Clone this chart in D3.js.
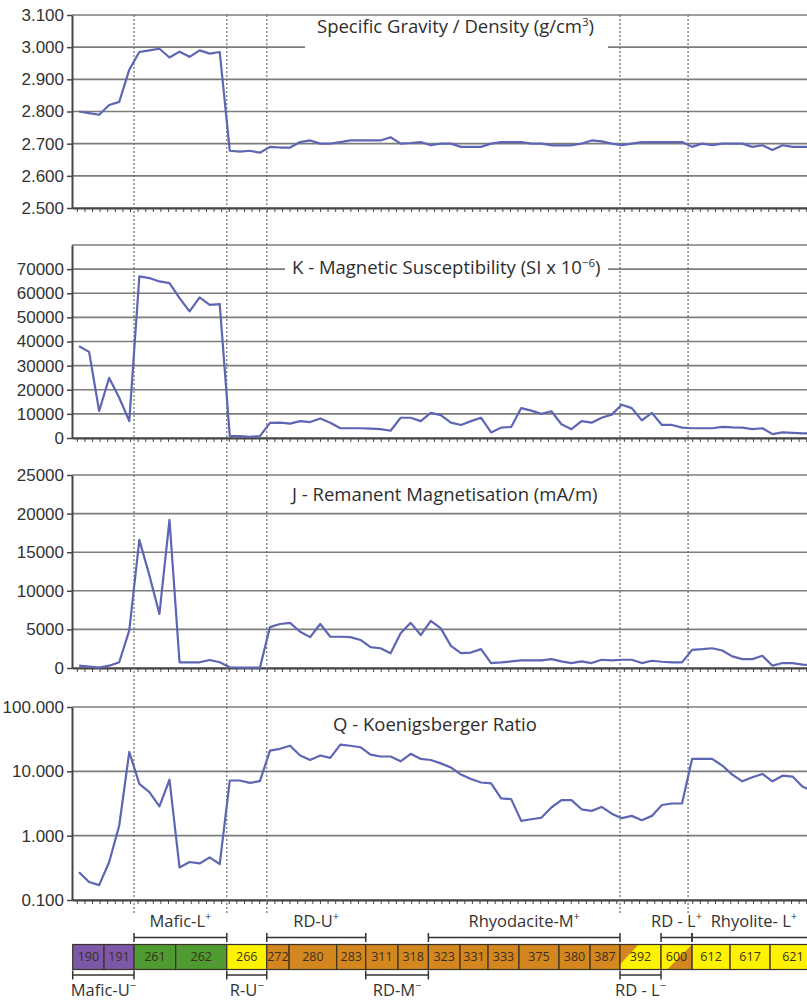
<!DOCTYPE html>
<html>
<head>
<meta charset="utf-8">
<script src="https://cdn.jsdelivr.net/npm/d3@7"></script>
<style>
  body { margin: 0; background: #fff; }
  svg { display: block; }
</style>
</head>
<body>
<svg id="chart" width="807" height="1002"></svg>
<script>
// ---- Measurements, one value per sample along the section ----
const density = [2.80,2.795,2.79,2.82,2.83,2.93,2.985,2.99,2.995,2.968,2.986,2.97,2.99,2.98,2.985,
  2.678,2.675,2.678,2.672,2.69,2.688,2.688,2.705,2.71,2.70,2.70,2.705,2.71,2.71,2.71,2.71,2.72,2.70,
  2.702,2.705,2.695,2.70,2.70,2.69,2.69,2.69,2.70,2.705,2.705,2.705,2.70,2.70,2.695,2.695,2.695,2.70,
  2.71,2.707,2.70,2.695,2.70,2.705,2.705,2.705,2.705,2.705,2.69,2.70,2.695,2.70,2.70,2.70,2.69,2.695,
  2.68,2.695,2.69,2.69,2.69];

const susceptibility = [38000,35700,11200,24900,16700,7000,67000,66300,64900,64200,58000,52500,58300,
  55200,55500,800,800,500,800,6300,6350,5950,7000,6600,8100,6350,4050,4050,4050,3900,3650,3000,8400,
  8400,7000,10400,9500,6350,5400,7000,8400,2300,4300,4600,12400,11350,10000,11100,5700,3650,7000,6350,
  8400,9700,13800,12400,7300,10400,5400,5400,4300,4050,4050,4050,4600,4400,4300,3650,4050,1600,2300,
  2100,1900,1900];

const remanence = [300,170,50,300,740,4870,16600,12000,7000,19200,740,740,740,1040,740,100,50,50,50,
  5300,5700,5850,4700,4000,5700,4050,4050,4000,3630,2700,2560,1920,4490,5850,4270,6110,5130,2860,1920,
  2000,2440,640,730,850,980,980,980,1150,850,640,850,640,1070,980,1070,1070,640,940,810,730,730,2350,
  2440,2560,2260,1500,1150,1150,1580,300,640,640,430,400];

const koenigsberger = [0.27,0.19,0.17,0.39,1.44,20,6.4,4.75,2.85,7.4,0.32,0.39,0.37,0.46,0.36,7.2,7.2,
  6.6,7.05,21,22.4,25,17.6,15,17.6,16.2,26,25,23.7,18.2,17,17,14.3,18.7,15.6,15,13.3,11.5,8.9,7.6,6.7,
  6.5,3.8,3.7,1.7,1.8,1.9,2.74,3.56,3.56,2.57,2.43,2.8,2.2,1.87,2.03,1.74,2.03,3.0,3.16,3.16,15.6,15.6,
  15.6,12.3,8.9,7.0,8.1,9.1,7.0,8.55,8.3,5.75,5.0];

// ---- Axis tick values ----
const densityTicks = [2.5, 2.6, 2.7, 2.8, 2.9, 3.0, 3.1];
const susceptibilityTicks = [0, 10000, 20000, 30000, 40000, 50000, 60000, 70000];
const remanenceTicks = [0, 5000, 10000, 15000, 20000, 25000];
const koenigsbergerTicks = [0.1, 1, 10, 100];

// ---- Geological units (positions in sample units along the section) ----
const contacts = [5.47, 14.70, 18.68, 53.83, 60.6];
const unitNames = ["190","191","261","262","266","272","280","283","311","318","323","331","333",
  "375","380","387","392","600","612","617","621"];
const unitEdges = [-0.63, 2.49, 5.47, 9.62, 14.70, 18.68, 20.90, 25.64, 28.53, 31.74, 34.76, 37.91,
  40.70, 43.78, 47.76, 50.85, 53.83, 57.91, 61.00, 64.78, 68.76, 73.3];
const unitRock = ["mafic-u","mafic-u","mafic-l","mafic-l","rhyolite","rd","rd","rd","rd","rd","rd","rd",
  "rd","rd","rd","rd","rd-rhy","rhy-rd","rhyolite","rhyolite","rhyolite"];

const upperGroups = [
  { name: "Mafic-L", sign: "+", from: 5.47, to: 14.70 },
  { name: "RD-U", sign: "+", from: 18.68, to: 28.53 },
  { name: "Rhyodacite-M", sign: "+", from: 34.76, to: 53.83 },
  { name: "RD - L", sign: "+", from: 57.91, to: 61.00 },
  { name: "Rhyolite- L", sign: "+", from: 61.00, to: 73.3 }
];
const lowerGroups = [
  { name: "Mafic-U", sign: "\u2212", from: -0.63, to: 5.47 },
  { name: "R-U", sign: "\u2212", from: 14.70, to: 18.68 },
  { name: "RD-M", sign: "\u2212", from: 28.53, to: 34.76 },
  { name: "RD - L", sign: "\u2212", from: 53.83, to: 57.91 }
];

// ---- Layout ----
const svg = d3.select("#chart");
const plotLeft = 72;
const panelHeight = 193;
const lineColor = "#5d66b3";
const gridColor = "#7c7c7c";
const axisColor = "#454545";
const rockColor = {
  "mafic-u": "#7e58a8",
  "mafic-l": "#4f9a31",
  "rhyolite": "#fff200",
  "rd": "#d5871f"
};

const x = d3.scaleLinear().domain([-0.7, 73.5]).range([plotLeft, plotLeft + 74.2 * 10.05]);
const xEnd = x.range()[1];
const bottomTicks = d3.range(-0.22, 73.5, 0.756);

const panels = [
  { top: 15, values: density, scale: d3.scaleLinear().domain([2.5, 3.1]), ticks: densityTicks,
    grid: densityTicks, fmt: d3.format(".3f"),
    title: [["Specific Gravity / Density (g/cm"], ["3", "sup"], [")"]], tx: 317, ty: 12, box: [305, 608, 2, 36] },
  { top: 245, values: susceptibility, scale: d3.scaleLinear().domain([0, 80000]), ticks: susceptibilityTicks,
    grid: susceptibilityTicks.concat([80000]), fmt: d3.format("d"),
    title: [["K - Magnetic Susceptibility (SI x 10"], ["\u2212" + "6", "sup"], [")"]], tx: 292, ty: 22.7, box: [285, 608, 12, 22] },
  { top: 475, values: remanence, scale: d3.scaleLinear().domain([0, 25000]), ticks: remanenceTicks,
    grid: remanenceTicks, fmt: d3.format("d"),
    title: [["J - Remanent Magnetisation (mA/m)"]], tx: 292, ty: 20, box: null },
  { top: 707, values: koenigsberger, scale: d3.scaleLog().domain([0.1, 100]), ticks: koenigsbergerTicks,
    grid: koenigsbergerTicks, fmt: d3.format(".3f"),
    title: [["Q - Koenigsberger Ratio"]], tx: 333, ty: 18, box: null }
];

panels.forEach(p => {
  const y = p.scale.range([p.top + panelHeight, p.top]);
  const g = svg.append("g");

  // horizontal grid
  g.append("g").selectAll("line").data(p.grid).join("line")
    .attr("x1", plotLeft).attr("x2", xEnd)
    .attr("y1", d => y(d)).attr("y2", d => y(d))
    .attr("stroke", gridColor).attr("stroke-width", 1.6);

  // title with its white background box
  if (p.box) {
    g.append("rect")
      .attr("x", p.box[0]).attr("width", p.box[1] - p.box[0])
      .attr("y", p.top + p.box[2]).attr("height", p.box[3])
      .attr("fill", "#fff");
  }
  const t = g.append("text")
    .attr("x", p.tx).attr("y", p.top + p.ty)
    .attr("dy", "0.35em")
    .attr("font-family", "'Open Sans', sans-serif")
    .attr("font-size", 18.5)
    .attr("fill", "#2e2e2e");
  p.title.forEach(part => {
    const s = t.append("tspan").text(part[0]);
    if (part[1] === "sup") s.attr("font-size", 11.5).attr("baseline-shift", "super");
  });

  // left axis
  const ya = g.append("g").attr("transform", `translate(${plotLeft},0)`)
    .call(d3.axisLeft(y).tickValues(p.ticks).tickFormat(p.fmt).tickSize(5).tickSizeOuter(0).tickPadding(3));
  ya.select(".domain").attr("stroke", axisColor).attr("stroke-width", 2);
  ya.selectAll(".tick line").attr("stroke", axisColor).attr("stroke-width", 1.5);
  ya.selectAll(".tick text")
    .attr("font-family", "'Liberation Sans', Arial, sans-serif")
    .attr("font-size", 17).attr("fill", "#333");

  // bottom axis with small tick marks
  const xa = g.append("g").attr("transform", `translate(0,${p.top + panelHeight})`)
    .call(d3.axisBottom(x).tickValues(bottomTicks).tickFormat("").tickSize(4).tickSizeOuter(0));
  xa.select(".domain").attr("stroke", axisColor).attr("stroke-width", 2.2);
  xa.selectAll(".tick line").attr("stroke", axisColor).attr("stroke-width", 1);

  p.y = y;
});

// contacts between units: dotted verticals through all panels
svg.append("g").selectAll("line").data(contacts).join("line")
  .attr("x1", d => x(d)).attr("x2", d => x(d))
  .attr("y1", 15).attr("y2", 914)
  .attr("stroke", "#6a6a6a").attr("stroke-width", 1.2)
  .attr("stroke-dasharray", "2,2");

// data lines drawn last so they sit on top
panels.forEach(p => {
  const line = d3.line().x((d, i) => x(i)).y(d => p.y(d));
  svg.append("path").datum(p.values)
    .attr("d", line)
    .attr("fill", "none")
    .attr("stroke", lineColor)
    .attr("stroke-width", 2.2)
    .attr("stroke-linejoin", "round");
});

// ---- Unit strip ----
const stripTop = 944.5, stripH = 25;
const units = unitNames.map((n, i) => ({ name: n, from: unitEdges[i], to: unitEdges[i + 1], rock: unitRock[i] }));
const strip = svg.append("g");
units.forEach(u => {
  const x0 = x(u.from), x1 = x(u.to), y0 = stripTop, y1 = stripTop + stripH, w = x1 - x0;
  if (u.rock === "rd-rhy") {
    // rhyodacite grading into rhyolite
    strip.append("rect").attr("x", x0).attr("y", y0).attr("width", w).attr("height", stripH).attr("fill", rockColor.rhyolite);
    strip.append("path")
      .attr("d", `M${x0},${y0}L${x0 + w * 0.45},${y0}L${x0},${y0 + stripH * 0.8}Z`)
      .attr("fill", rockColor.rd);
  } else if (u.rock === "rhy-rd") {
    // rhyolite grading into rhyodacite
    strip.append("rect").attr("x", x0).attr("y", y0).attr("width", w).attr("height", stripH).attr("fill", rockColor.rhyolite);
    strip.append("path")
      .attr("d", `M${x1},${y0}L${x1},${y1}L${x0 + w * 0.2},${y1}Z`)
      .attr("fill", rockColor.rd);
  } else {
    strip.append("rect").attr("x", x0).attr("y", y0).attr("width", w).attr("height", stripH)
      .attr("fill", rockColor[u.rock]);
  }
  strip.append("rect").attr("x", x0).attr("y", y0).attr("width", w).attr("height", stripH)
    .attr("fill", "none").attr("stroke", "#3a3226").attr("stroke-width", 1.2);
  strip.append("text")
    .attr("x", (x0 + x1) / 2).attr("y", y0 + stripH / 2).attr("dy", "0.35em")
    .attr("text-anchor", "middle")
    .attr("font-family", "'Open Sans', sans-serif").attr("font-size", 12.5)
    .attr("fill", "#3b3020")
    .text(u.name);
});

// group brackets above and below the strip
function drawGroups(groups, lineY, labelY) {
  const gg = svg.append("g");
  groups.forEach(gr => {
    const x0 = x(gr.from), x1 = x(gr.to);
    gg.append("line").attr("x1", x0).attr("x2", x1).attr("y1", lineY).attr("y2", lineY)
      .attr("stroke", "#333").attr("stroke-width", 1.5);
    [x0, x1].forEach(xx => gg.append("line").attr("x1", xx).attr("x2", xx)
      .attr("y1", lineY - 4.5).attr("y2", lineY + 4.5).attr("stroke", "#333").attr("stroke-width", 1.5));
    const t = gg.append("text")
      .attr("x", (x0 + x1) / 2).attr("y", labelY).attr("dy", "0.35em")
      .attr("text-anchor", "middle")
      .attr("font-family", "'Open Sans', sans-serif").attr("font-size", 16.5)
      .attr("fill", "#333");
    t.append("tspan").text(gr.name);
    t.append("tspan").text(gr.sign).attr("font-size", 11).attr("baseline-shift", "super");
  });
}
drawGroups(upperGroups, 937.5, 921.5);
drawGroups(lowerGroups, 975, 990);
</script>
</body>
</html>
